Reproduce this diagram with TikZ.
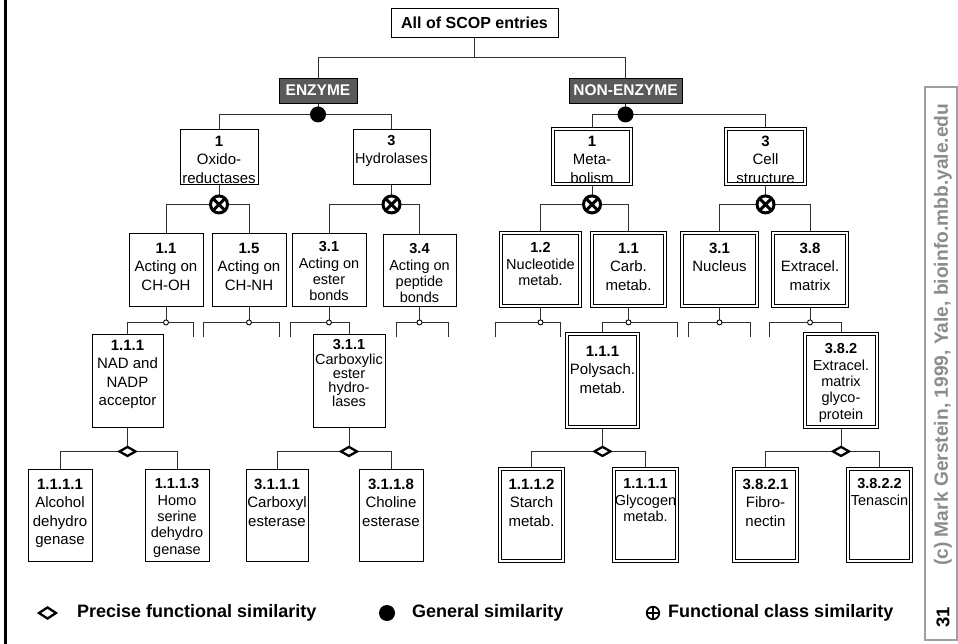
\documentclass[tikz,border=0pt]{standalone}
\usepackage{fontspec}
\setmainfont{Liberation Sans}
\usetikzlibrary{shapes.geometric}
\pgfdeclarelayer{back}
\pgfdeclarelayer{bg}
\pgfsetlayers{back,bg,main}
\definecolor{enzfill}{HTML}{5A5A5A}
\definecolor{wm}{HTML}{8C8C8C}
\definecolor{wmline}{HTML}{A0A0A0}
\definecolor{conncol}{HTML}{303030}
\tikzset{
  box/.style={draw=black, line width=0.9pt, rectangle, inner sep=0pt},
  dbox/.style={draw=black, double=white, double distance=1.6pt, line width=0.8pt, rectangle, inner sep=0pt},
  dark/.style={draw=black, fill=enzfill, line width=0.9pt, rectangle, inner sep=0pt, text=white, font=\fontsize{15.5}{18}\selectfont\bfseries},
  txt/.style={align=center, inner sep=0pt, anchor=north, font=\fontsize{15}{18.5}\selectfont},
  sm/.style={font=\fontsize{14.5}{16.3}\selectfont},
  conn/.style={draw=conncol, line width=1pt},
  gdot/.style={circle, fill=black, minimum size=16pt, inner sep=0pt},
  cxs/.style={circle, draw=black, fill=white, line width=3pt, minimum size=17pt, inner sep=0pt,
    path picture={\draw[line width=3pt] (path picture bounding box.north west) -- (path picture bounding box.south east)
      (path picture bounding box.north east) -- (path picture bounding box.south west);}},
  sdot/.style={circle, draw=black, fill=white, line width=0.9pt, minimum size=5pt, inner sep=0pt},
  pdia/.style={diamond, draw=black, fill=white, line width=2.3pt, minimum width=17pt, minimum height=10pt, inner sep=0pt},
  lfont/.style={font=\fontsize{18}{20}\selectfont\bfseries, inner sep=0pt, anchor=west},
}
% #1 style, #2 name, #3 x1, #4 y1, #5 x2, #6 y2, #7 number, #8 text, #9 text options
\newcommand\tbox[9]{%
  \node[#1, minimum width={(#5-#3)*1pt}, minimum height={(#6-#4)*1pt}] (#2) at ({(#3+#5)/2},{(#4+#6)/2}) {};
  \node[txt, #9] (#2-t) at (#2.north) {\textbf{#7}\\#8};
}
\begin{document}
\begin{tikzpicture}[x=1pt, y=-1pt]
\useasboundingbox (0,0) rectangle (958,644);
\begin{pgfonlayer}{back}
\fill[white] (0,0) rectangle (958,644);
\end{pgfonlayer}
% left border
\draw[line width=3pt] (5.5,0) -- (5.5,644);

% root and top level
\node[box, minimum width=167pt, minimum height=29pt, font=\fontsize{16}{18}\selectfont\bfseries] (root) at (474.5,22.5) {All of SCOP entries};
\node[dark, minimum width=78pt, minimum height=25pt] (enz) at (318,90.5) {ENZYME};
\node[dark, minimum width=113pt, minimum height=25pt] (nonenz) at (625.5,90.5) {NON-ENZYME};
\coordinate (rj) at ([yshift=-20pt]root.south);

% enzyme branch
\tbox{box}{e1}{180}{129}{258}{184}{1}{Oxido-\\reductases}{yshift=-7pt}
\tbox{box}{e3}{353}{129}{430}{184}{3}{Hydrolases}{yshift=-7pt, font=\fontsize{14.5}{18}\selectfont}
\tbox{box}{e11}{129}{233}{203}{306}{1.1}{Acting on\\CH-OH}{yshift=-10pt}
\tbox{box}{e15}{212}{233}{286}{306}{1.5}{Acting on\\CH-NH}{yshift=-10pt}
\tbox{box}{e31}{292}{233}{366}{306}{3.1}{Acting on\\ester\\bonds}{yshift=-9pt, sm}
\tbox{box}{e34}{383}{234}{456}{306}{3.4}{Acting on\\peptide\\bonds}{yshift=-10pt, sm}
\tbox{box}{e111}{92}{334}{163}{427}{1.1.1}{NAD and\\NADP\\acceptor}{yshift=-6pt}
\tbox{box}{e311}{313}{334}{385}{427}{3.1.1}{Carboxylic\\ester\\hydro-\\lases}{yshift=-6pt, font=\fontsize{14.5}{14.2}\selectfont}
\tbox{box}{e1111}{28}{469}{92}{561}{1.1.1.1}{Alcohol\\dehydro\\genase}{yshift=-10pt}
\tbox{box}{e1113}{145}{469}{209}{561}{1.1.1.3}{Homo\\serine\\dehydro\\genase}{yshift=-10pt, sm}
\tbox{box}{e3111}{246}{469}{308}{561}{3.1.1.1}{Carboxyl\\esterase}{yshift=-10pt}
\tbox{box}{e3118}{359}{469}{423}{561}{3.1.1.8}{Choline\\esterase}{yshift=-10pt}

% non-enzyme branch
\tbox{dbox}{n1}{553}{129}{631}{184}{1}{Meta-\\bolism}{yshift=-7pt}
\tbox{dbox}{n3}{726}{129}{805}{184}{3}{Cell\\structure}{yshift=-7pt}
\tbox{dbox}{n12}{501}{233}{580}{306}{1.2}{Nucleotide\\metab.}{yshift=-10pt, sm}
\tbox{dbox}{n11}{592}{233}{665}{306}{1.1}{Carb.\\metab.}{yshift=-10pt}
\tbox{dbox}{n31}{682}{233}{757}{306}{3.1}{Nucleus}{yshift=-10pt}
\tbox{dbox}{n38}{773}{233}{847}{306}{3.8}{Extracel.\\matrix}{yshift=-10pt}
\tbox{dbox}{n111}{567}{334}{638}{427}{1.1.1}{Polysach.\\metab.}{yshift=-12pt}
\tbox{dbox}{n382}{805}{334}{877}{427}{3.8.2}{Extracel.\\matrix\\glyco-\\protein}{yshift=-10pt, sm}
\tbox{dbox}{n1112}{500}{469}{563}{561}{1.1.1.2}{Starch\\metab.}{yshift=-10pt}
\tbox{dbox}{n1111}{614}{469}{677}{561}{1.1.1.1}{Glycogen\\metab.}{yshift=-10pt, sm}
\tbox{dbox}{n3821}{734}{469}{797}{561}{3.8.2.1}{Fibro-\\nectin}{yshift=-10pt}
\tbox{dbox}{n3822}{848}{469}{911}{561}{3.8.2.2}{Tenascin}{yshift=-10pt, sm}

% similarity symbols
\node[gdot] (dE) at ([yshift=-11pt]enz.south) {};
\node[gdot] (dN) at ([yshift=-11pt]nonenz.south) {};
\node[cxs] (cE1) at ([yshift=-20pt]e1.south) {};
\node[cxs] (cE3) at ([yshift=-20pt]e3.south) {};
\node[cxs] (cN1) at ([yshift=-20pt]n1.south) {};
\node[cxs] (cN3) at ([yshift=-20pt]n3.south) {};
\foreach \b in {e11,e15,e31,e34,n12,n11,n31,n38}{
  \node[sdot] (s\b) at ([yshift=-16pt]\b.south) {};
}
\foreach \b in {e111,e311,n111,n382}{
  \node[pdia] (p\b) at ([yshift=-24pt]\b.south) {};
}

% free branch ends
\coordinate (fe11r) at (193,337);
\coordinate (fe15l) at (203,337);
\coordinate (fe15r) at (279,337);
\coordinate (fe31l) at (290,337);
\coordinate (fe34l) at (396,337);
\coordinate (fe34r) at (448,337);
\coordinate (fn12l) at (495,337);
\coordinate (fn12r) at (560,337);
\coordinate (fn11r) at (677,337);
\coordinate (fn31l) at (688,337);
\coordinate (fn31r) at (750,337);
\coordinate (fn38l) at (769,337);

% legend
\node[pdia, minimum width=18pt, minimum height=12pt] (lgp) at (47.5,613) {};
\node[lfont] (lgpt) at (77,613) {Precise functional similarity};
\node[gdot] (lgg) at (387,613) {};
\node[lfont] (lggt) at (412,613) {General similarity};
\node[circle, draw=black, line width=1.8pt, minimum size=12.5pt, inner sep=0pt,
  path picture={\draw[line width=1.8pt] (path picture bounding box.north) -- (path picture bounding box.south)
    (path picture bounding box.west) -- (path picture bounding box.east);}] (lgc) at (653,613) {};
\node[lfont] (lgct) at (668,613) {Functional class similarity};

% watermark
\node[draw=wmline, line width=1.2pt, minimum width=32pt, minimum height=553pt, inner sep=0pt] (wmbox) at (941,363.5) {};
\node[rotate=90, anchor=west, text=wm, inner sep=0pt, font=\fontsize{19.2}{21}\selectfont\bfseries] (wmtext) at (943,566) {(c) Mark Gerstein, 1999, Yale, bioinfo.mbb.yale.edu};
\node[rotate=90, inner sep=0pt, font=\fontsize{18.5}{20}\selectfont\bfseries] (wmnum) at (943,617) {31};

% connectors
\begin{pgfonlayer}{bg}
\draw[conn] (root.south) -- (rj);
\draw[conn] (enz.north) |- (rj) -| (nonenz.north);
\draw[conn] (enz.south) -- (dE.center);
\draw[conn] (e1.north) |- (dE.center) -| (e3.north);
\draw[conn] (nonenz.south) -- (dN.center);
\draw[conn] (n1.north) |- (dN.center) -| (n3.north);
\draw[conn] (e1.south) -- (cE1.center);
\draw[conn] (e11.north) |- (cE1.center) -| (e15.north);
\draw[conn] (e3.south) -- (cE3.center);
\draw[conn] (e31.north) |- (cE3.center) -| (e34.north);
\draw[conn] (n1.south) -- (cN1.center);
\draw[conn] (n12.north) |- (cN1.center) -| (n11.north);
\draw[conn] (n3.south) -- (cN3.center);
\draw[conn] (n31.north) |- (cN3.center) -| (n38.north);
\foreach \b in {e11,e15,e31,e34,n12,n11,n31,n38}{
  \draw[conn] (\b.south) -- (s\b.center);
}
\draw[conn] (e111.north) |- (se11.center) -| (fe11r);
\draw[conn] (fe15l) |- (se15.center) -| (fe15r);
\draw[conn] (fe31l) |- (se31.center) -| (e311.north);
\draw[conn] (fe34l) |- (se34.center) -| (fe34r);
\draw[conn] (fn12l) |- (sn12.center) -| (fn12r);
\draw[conn] (n111.north) |- (sn11.center) -| (fn11r);
\draw[conn] (fn31l) |- (sn31.center) -| (fn31r);
\draw[conn] (fn38l) |- (sn38.center) -| (n382.north);
\foreach \b in {e111,e311,n111,n382}{
  \draw[conn] (\b.south) -- (p\b.center);
}
\draw[conn] (e1111.north) |- (pe111.center) -| (e1113.north);
\draw[conn] (e3111.north) |- (pe311.center) -| (e3118.north);
\draw[conn] (n1112.north) |- (pn111.center) -| (n1111.north);
\draw[conn] (n3821.north) |- (pn382.center) -| (n3822.north);
\end{pgfonlayer}
\end{tikzpicture}
\end{document}
